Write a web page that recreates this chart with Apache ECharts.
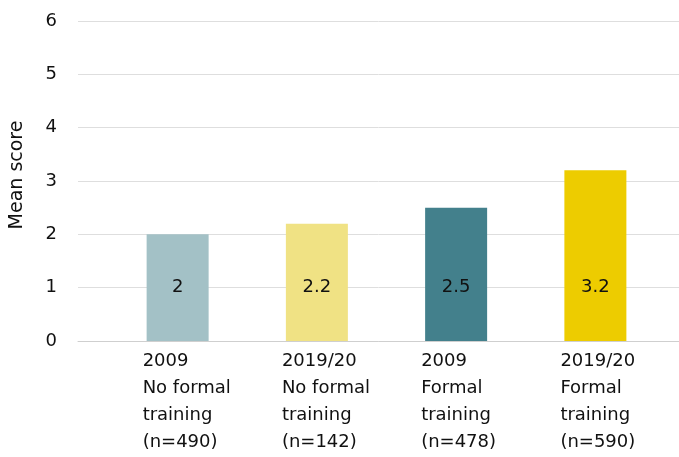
<!DOCTYPE html>
<html>
<head>
<meta charset="utf-8">
<script src="https://cdn.jsdelivr.net/npm/echarts@6/dist/echarts.min.js"></script>
<style>
  html, body { margin: 0; padding: 0; background: #ffffff; }
  #chart { width: 679px; height: 457px; }
</style>
</head>
<body>
<div id="chart"></div>
<script>
// ---- data ----
var years = ['2009', '2019/20', '2009', '2019/20'];
var groups = ['No formal\ntraining', 'No formal\ntraining', 'Formal\ntraining', 'Formal\ntraining'];
var sampleSizes = [490, 142, 478, 590];
var meanScores = [2, 2.2, 2.5, 3.2];
var barColors = ['#a3c1c6', '#f0e284', '#43808c', '#edcc00'];
var yTicks = [0, 1, 2, 3, 4, 5, 6];

var categories = years.map(function (y, i) {
  return y + '\n' + groups[i] + '\n(n=' + sampleSizes[i] + ')';
});

var FONT = 'DejaVu Sans';
var chart = echarts.init(document.getElementById('chart'), null, { renderer: 'canvas' });

chart.setOption({
  animation: false,
  backgroundColor: '#ffffff',
  grid: [
    { left: 78, right: 0, top: 21, bottom: 116 },   // gridlines + y axis
    { left: 108, right: 14, top: 21, bottom: 116 }, // bars
    { left: 73, right: 49, top: 21, bottom: 116 }   // category labels
  ],
  xAxis: [
    {
      gridIndex: 0, type: 'value', min: 0, max: 1,
      axisLine: { show: true, lineStyle: { color: '#cfcfcf', width: 1 } },
      axisTick: { show: false }, axisLabel: { show: false }, splitLine: { show: false }
    },
    {
      gridIndex: 1, type: 'category', data: categories, show: false
    },
    {
      gridIndex: 2, type: 'category', data: categories,
      axisLine: { show: false }, axisTick: { show: false }, splitLine: { show: false },
      axisLabel: {
        interval: 0, align: 'left', margin: 7,
        fontFamily: FONT, fontSize: 18, lineHeight: 27, color: '#111111'
      }
    }
  ],
  yAxis: [
    {
      gridIndex: 0, type: 'value', min: yTicks[0], max: yTicks[yTicks.length - 1], interval: 1,
      name: 'Mean score', nameLocation: 'middle', nameGap: 51, nameRotate: 90,
      nameTextStyle: { fontFamily: FONT, fontSize: 19, color: '#111111', padding: [0, 0, 0, 12] },
      axisLine: { show: false }, axisTick: { show: false },
      axisLabel: { margin: 21, fontFamily: FONT, fontSize: 18, color: '#111111' },
      splitLine: { show: true, lineStyle: { color: '#dedede', width: 1 } }
    },
    {
      gridIndex: 1, type: 'value', min: yTicks[0], max: yTicks[yTicks.length - 1], show: false,
      splitLine: { show: false }
    },
    {
      gridIndex: 2, type: 'value', min: yTicks[0], max: yTicks[yTicks.length - 1], show: false,
      splitLine: { show: false }
    }
  ],
  series: [
    {
      type: 'bar',
      xAxisIndex: 1, yAxisIndex: 1,
      barWidth: 62,
      data: meanScores.map(function (v, i) {
        return { value: v, itemStyle: { color: barColors[i] } };
      }),
      label: {
        show: true, position: 'insideBottom', distance: 45,
        fontFamily: FONT, fontSize: 18, color: '#111111'
      }
    }
  ]
});
</script>
</body>
</html>
